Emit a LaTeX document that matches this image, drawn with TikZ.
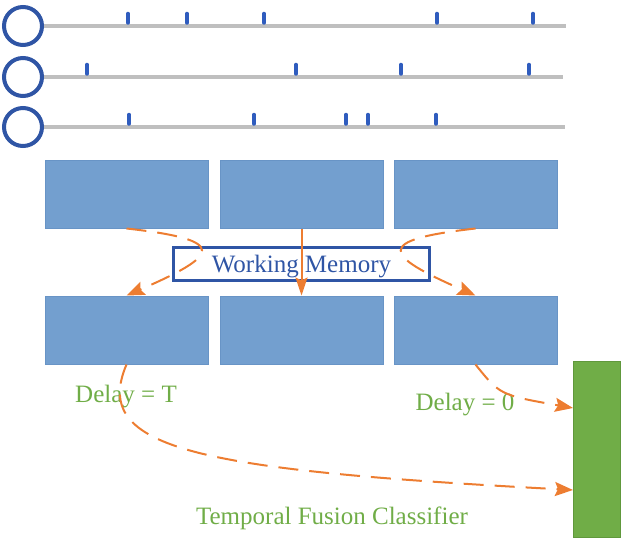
\documentclass[tikz,border=0pt]{standalone}
\usepackage{fontspec}
\setmainfont{Liberation Serif}
\usetikzlibrary{arrows.meta}
\definecolor{spikeblue}{RGB}{47,92,190}
\definecolor{ringblue}{RGB}{47,85,165}
\definecolor{boxblue}{RGB}{115,159,207}
\definecolor{boxedge}{RGB}{104,148,198}
\definecolor{fuseorange}{RGB}{237,125,49}
\definecolor{fusegreen}{RGB}{112,173,71}
\definecolor{greenedge}{RGB}{96,152,60}

\begin{document}
\begin{tikzpicture}[x=1pt,y=-1pt,
	frame/.style={draw=boxedge,fill=boxblue,line width=1pt,minimum width=163pt,minimum height=68pt},
	neuron/.style={circle,draw=ringblue,line width=4pt,minimum size=38pt,inner sep=0pt},
	train/.style={gray!50,line width=3.5pt},
	spike/.style={spikeblue,line width=3.5pt,line cap=round},
	flow/.style={fuseorange,line width=2pt,dash pattern=on 20pt off 11pt,-{Stealth[length=18pt,width=14pt,inset=3pt]}},
	greentext/.style={text=fusegreen,font=\fontsize{25}{30}\selectfont,anchor=base}]
	\useasboundingbox (0,0) rectangle (624,543);
	\foreach \r/\y/\e in {1/26/566,2/77/563,3/127/565}{
		\node[neuron] (n\r) at (23,\y) {};
		\coordinate (e\r) at (\e,\y);
		\draw[train] (n\r.east) -- (e\r);
	}
	\foreach \x in {128,187,264,437,533} \draw[spike] (\x,23) -- (\x,13.5);
	\foreach \x in {87,296,401,529} \draw[spike] (\x,74) -- (\x,64.5);
	\foreach \x in {129,254,346,368,436} \draw[spike] (\x,124) -- (\x,114.5);
	\foreach \i/\x in {1/126.5,2/301.5,3/475.5}{
		\node[frame] (t\i) at (\x,194) {};
		\node[frame] (b\i) at (\x,330) {};
	}
	\node[draw=ringblue,line width=3pt,minimum width=256pt,minimum height=33pt,text depth=0pt,text=ringblue,font=\fontsize{25}{30}\selectfont] (wm) at (301.5,264) {Working Memory};
	\node[draw=greenedge,fill=fusegreen,line width=1pt,minimum width=47pt,minimum height=176pt,inner sep=0pt] (cls) at (597,449.5) {};
	\node[greentext] (dT) at (126,402) {Delay = T};
	\node[greentext] (d0) at (465,410) {Delay = 0};
	\node[greentext] (tfc) at (332,524) {Temporal Fusion Classifier};
	\coordinate (in0) at ([yshift=-47pt]cls.north west);
	\coordinate (inT) at ([yshift=-129pt]cls.north west);
	\draw[flow] (t1.south) .. controls (230,240) and (220,255) .. (b1.north);
	\draw[flow] (t3.south) .. controls (373,240) and (383,255) .. (b3.north);
	\draw[fuseorange,line width=2pt,-{Stealth[length=18pt,width=12pt,inset=3pt]}] (t2.south) -- (b2.north);
	\draw[flow] (b3.south) .. controls (500,395) .. (in0);
	\draw[flow] (b1.south) .. controls (90,450) and (200,470) .. (inT);
\end{tikzpicture}
\end{document}
